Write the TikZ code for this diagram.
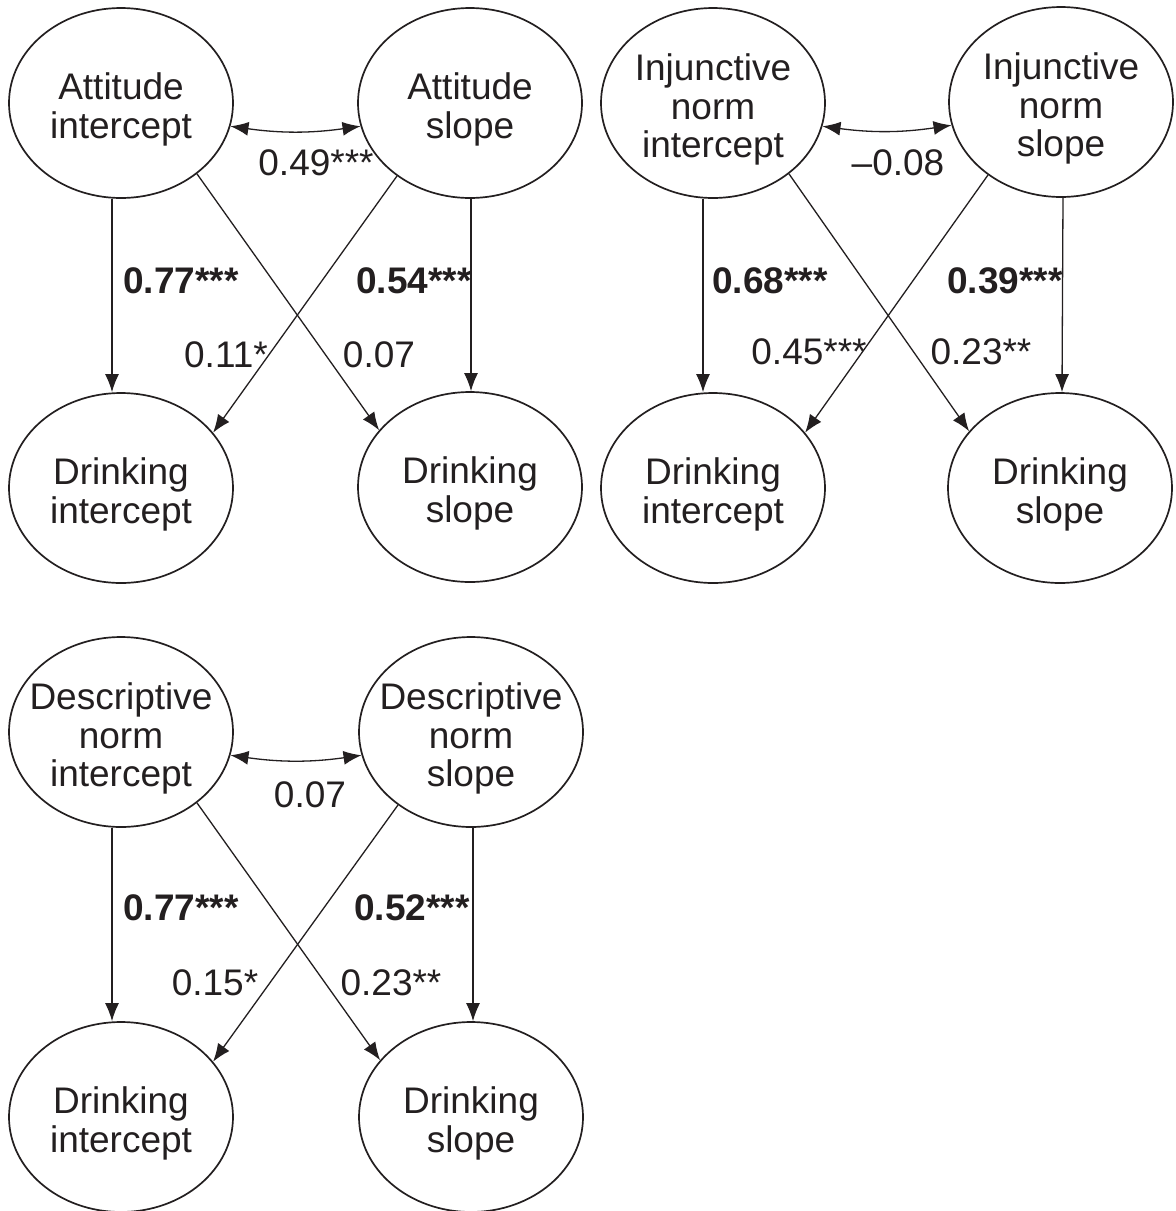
\documentclass[tikz,border=0pt]{standalone}
\usepackage{fontspec}
\setmainfont{Liberation Sans}
\usetikzlibrary{arrows.meta,shapes.geometric}
\newcommand\liftline{\rule{0pt}{20pt}}
\begin{document}
\begin{tikzpicture}[x=0.5pt,y=-0.5pt,
  latent/.style={draw=drawColor,ellipse,line width=0.85pt,minimum width=112pt,minimum height=95pt,inner sep=0pt,inner xsep=-15pt,align=center,text=drawColor,font=\fontsize{18.5}{19.4}\selectfont},
  effect/.style={draw=drawColor,line width=0.65pt,-{Latex[length=9pt,width=7pt]}},
  covar/.style={draw=drawColor,line width=0.65pt,{Latex[length=9pt,width=7pt]}-{Latex[length=9pt,width=7pt]}},
  coef/.style={text=drawColor,inner sep=0pt,font=\fontsize{18.5}{19}\selectfont},
  bcoef/.style={text=drawColor,inner sep=0pt,font=\fontsize{18.5}{19}\selectfont\bfseries}]
\definecolor{drawColor}{RGB}{35,31,32}
\definecolor{fillColor}{RGB}{255,255,255}
\path[use as bounding box,fill=fillColor] (0,0) rectangle (1175,1211);

\node[latent] (attInt) at (121,103) {\liftline Attitude\\intercept};
\node[latent] (attSlp) at (470,103) {\liftline Attitude\\slope};
\node[latent] (drkInt1) at (121,488) {\liftline Drinking\\intercept};
\node[latent] (drkSlp1) at (470,487) {\liftline Drinking\\slope};

\draw[covar] (attInt.-12) to[bend right=8] (attSlp.192);
\draw[effect] ([xshift=-4.5pt]attInt.south) -- ([xshift=-4.5pt]drkInt1.north);
\draw[effect] ([xshift=0.5pt]attSlp.south) -- ([xshift=0.5pt]drkSlp1.north);
\draw[effect] (attInt.-43) -- (drkSlp1.148);
\draw[effect] (attSlp.225) -- (drkInt1.31);

\node[coef] (attCov) at (316,163) {0.49***};
\node[bcoef] (attII) at (181,281) {0.77***};
\node[bcoef] (attSS) at (414,281) {0.54***};
\node[coef] (attSI) at (226,355) {0.11*};
\node[coef] (attIS) at (379,355) {0.07};

\node[latent] (injInt) at (713,103) {\liftline Injunctive\\norm\\intercept};
\node[latent] (injSlp) at (1061,102) {\liftline Injunctive\\norm\\slope};
\node[latent] (drkInt2) at (713,488) {\liftline Drinking\\intercept};
\node[latent] (drkSlp2) at (1060,488) {\liftline Drinking\\slope};

\draw[covar] (injInt.-12) to[bend right=8] (injSlp.192);
\draw[effect] ([xshift=-5pt]injInt.south) -- ([xshift=-5pt]drkInt2.north);
\draw[effect] ([xshift=1pt]injSlp.south) -- ([xshift=1pt]drkSlp2.north);
\draw[effect] (injInt.-43) -- (drkSlp2.148);
\draw[effect] (injSlp.225) -- (drkInt2.31);

\node[coef] (injCov) at (898,163) {–0.08};
\node[bcoef] (injII) at (770,281) {0.68***};
\node[bcoef] (injSS) at (1005,281) {0.39***};
\node[coef] (injSI) at (809,352) {0.45***};
\node[coef] (injIS) at (981,352) {0.23**};

\node[latent] (desInt) at (121,732) {\liftline Descriptive\\norm\\intercept};
\node[latent] (desSlp) at (471,732) {\liftline Descriptive\\norm\\slope};
\node[latent] (drkInt3) at (121,1117) {\liftline Drinking\\intercept};
\node[latent] (drkSlp3) at (471,1117) {\liftline Drinking\\slope};

\draw[covar] (desInt.-12) to[bend right=8] (desSlp.192);
\draw[effect] ([xshift=-4.5pt]desInt.south) -- ([xshift=-4.5pt]drkInt3.north);
\draw[effect] ([xshift=1pt]desSlp.south) -- ([xshift=1pt]drkSlp3.north);
\draw[effect] (desInt.-43) -- (drkSlp3.148);
\draw[effect] (desSlp.225) -- (drkInt3.31);

\node[coef] (desCov) at (310,795) {0.07};
\node[bcoef] (desII) at (181,908) {0.77***};
\node[bcoef] (desSS) at (412,908) {0.52***};
\node[coef] (desSI) at (215,983) {0.15*};
\node[coef] (desIS) at (391,983) {0.23**};
\end{tikzpicture}
\end{document}
